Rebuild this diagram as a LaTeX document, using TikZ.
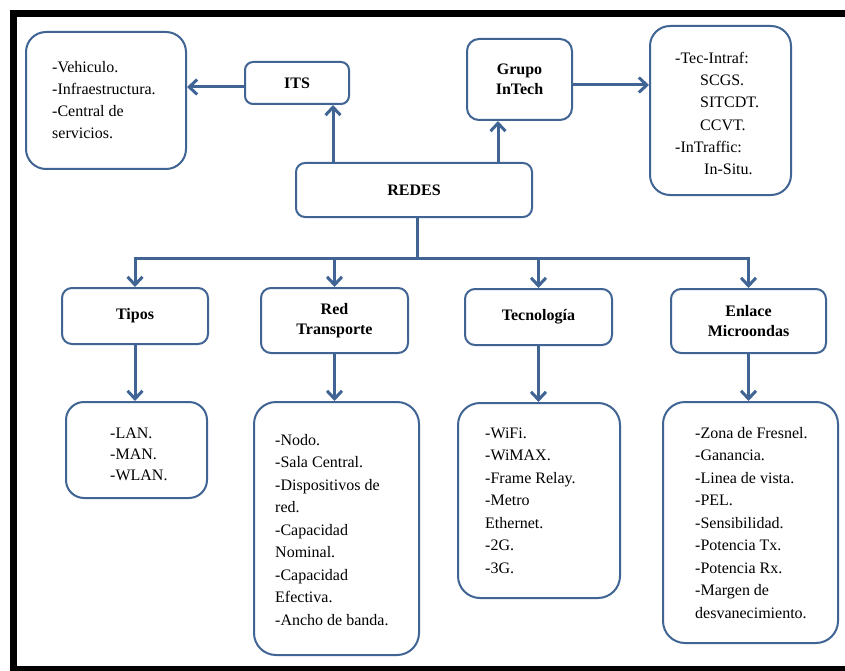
\documentclass[tikz,border=0pt]{standalone}
\usepackage{fontspec}
\setmainfont{Liberation Serif}
\usetikzlibrary{arrows.meta,calc}
\definecolor{bl}{RGB}{64,101,148}
\begin{document}
\begin{tikzpicture}[x=1pt,y=-1pt,
  hbox/.style={draw=bl, line width=2pt, rounded corners=#1, fill=white, inner sep=0pt,
    font=\fontsize{16}{20.5}\selectfont\bfseries, align=center},
  hbox/.default=9pt,
  lbox/.style={draw=bl, line width=2pt, rounded corners=#1, fill=white, inner sep=0pt},
  lbox/.default=22pt,
  ltext/.style={inner sep=0pt, align=left, anchor=north west, font=\fontsize{16}{22.5}\selectfont},
  conn/.style={draw=bl, line width=3pt},
  arr/.style={draw=bl, line width=3pt, -{Straight Barb[length=8pt,width=15pt]}}]
\useasboundingbox (0,0) rectangle (845,671);
\fill[white] (0,0) rectangle (845,671);
% frame
\fill[black] (10,10) rectangle (17,671);
\fill[black] (10,10) rectangle (845,17);
\fill[black] (10,666) rectangle (845,671);

% top row
\node[lbox=20pt, minimum width=160pt, minimum height=137pt] (itsl) at (106,100.5) {};
\node[ltext, font=\fontsize{16}{22}\selectfont] (itst) at (52,56.6)
  {\strut-Vehiculo.\\-Infraestructura.\\-Central de\\servicios.};
\node[hbox=8pt, minimum width=104pt, minimum height=42pt] (its) at (297,83) {ITS};
\node[hbox=12pt, minimum width=105pt, minimum height=81pt] (grupo) at (519.5,79.5) {Grupo\\InTech};
\node[lbox=20pt, minimum width=141pt, minimum height=169pt] (tecl) at (720.5,110.5) {};
\node[ltext, font=\fontsize{16}{22.3}\selectfont] (tect) at (675,47.4)
  {\strut-Tec-Intraf:\\\hspace*{25pt}SCGS.\\\hspace*{25pt}SITCDT.\\\hspace*{25pt}CCVT.\\-InTraffic:\\\hspace*{29pt}In-Situ.};
\node[hbox=9pt, minimum width=236pt, minimum height=54pt] (redes) at (414,190) {REDES};

% second row
\node[hbox=10pt, minimum width=146pt, minimum height=56pt] (tipos) at (135,316) {Tipos};
\node[hbox=10pt, minimum width=147pt, minimum height=65pt] (redt) at (334.5,320.5) {Red\\Transporte};
\node[hbox=10pt, minimum width=147pt, minimum height=56pt] (tecno) at (538.5,317) {Tecnología};
\node[hbox=10pt, minimum width=155pt, minimum height=64pt] (enlace) at (748.5,321) {Enlace\\Microondas};

% third row
\node[lbox=18pt, minimum width=141pt, minimum height=96pt] (tiposl) at (136.5,450) {};
\node[ltext, font=\fontsize{16}{21}\selectfont] (tipost) at (110,423.3)
  {\strut-LAN.\\-MAN.\\-WLAN.};
\node[lbox, minimum width=165pt, minimum height=253pt] (redtl) at (336.5,528.5) {};
\node[ltext] (redtt) at (275,429.25)
  {\strut-Nodo.\\-Sala Central.\\-Dispositivos de\\red.\\-Capacidad\\Nominal.\\-Capacidad\\Efectiva.\\-Ancho de banda.};
\node[lbox, minimum width=162pt, minimum height=195pt] (tecnol) at (539,500.5) {};
\node[ltext] (tecnot) at (485,422.25)
  {\strut-WiFi.\\-WiMAX.\\-Frame Relay.\\-Metro\\Ethernet.\\-2G.\\-3G.};
\node[lbox, minimum width=175pt, minimum height=241pt] (enlacel) at (750.5,522.5) {};
\node[ltext] (enlacet) at (695,422.25)
  {\strut-Zona de Fresnel.\\-Ganancia.\\-Linea de vista.\\-PEL.\\-Sensibilidad.\\-Potencia Tx.\\-Potencia Rx.\\-Margen de\\desvanecimiento.};

% connectors
\coordinate (itsx) at ($(its.south)+(36,0)$);
\draw[arr] (itsx |- redes.north) -- (itsx);
\coordinate (grx) at ($(grupo.south)+(-21.5,0)$);
\draw[arr] (grx |- redes.north) -- (grx);
\coordinate (itsy) at ($(its.west)+(0,4)$);
\draw[arr] (itsy) -- (itsy -| itsl.east);
\coordinate (gry) at ($(grupo.east)+(0,5.5)$);
\draw[arr] (gry) -- (gry -| tecl.west);
\coordinate (trk) at ($(redes.south)+(3,0)$);
\coordinate (bus) at ($(redes.south)+(3,40)$);
\draw[conn] (trk) -- (bus);
\draw[conn, line cap=rect] (tipos.north |- bus) -- (enlace.north |- bus);
\foreach \n in {tipos,redt,tecno,enlace}
  \draw[arr] (\n.north |- bus) -- (\n.north);
\foreach \n/\m in {tipos/tiposl,redt/redtl,tecno/tecnol,enlace/enlacel}
  \draw[arr] (\n.south) -- (\n.south |- \m.north);
\end{tikzpicture}
\end{document}
